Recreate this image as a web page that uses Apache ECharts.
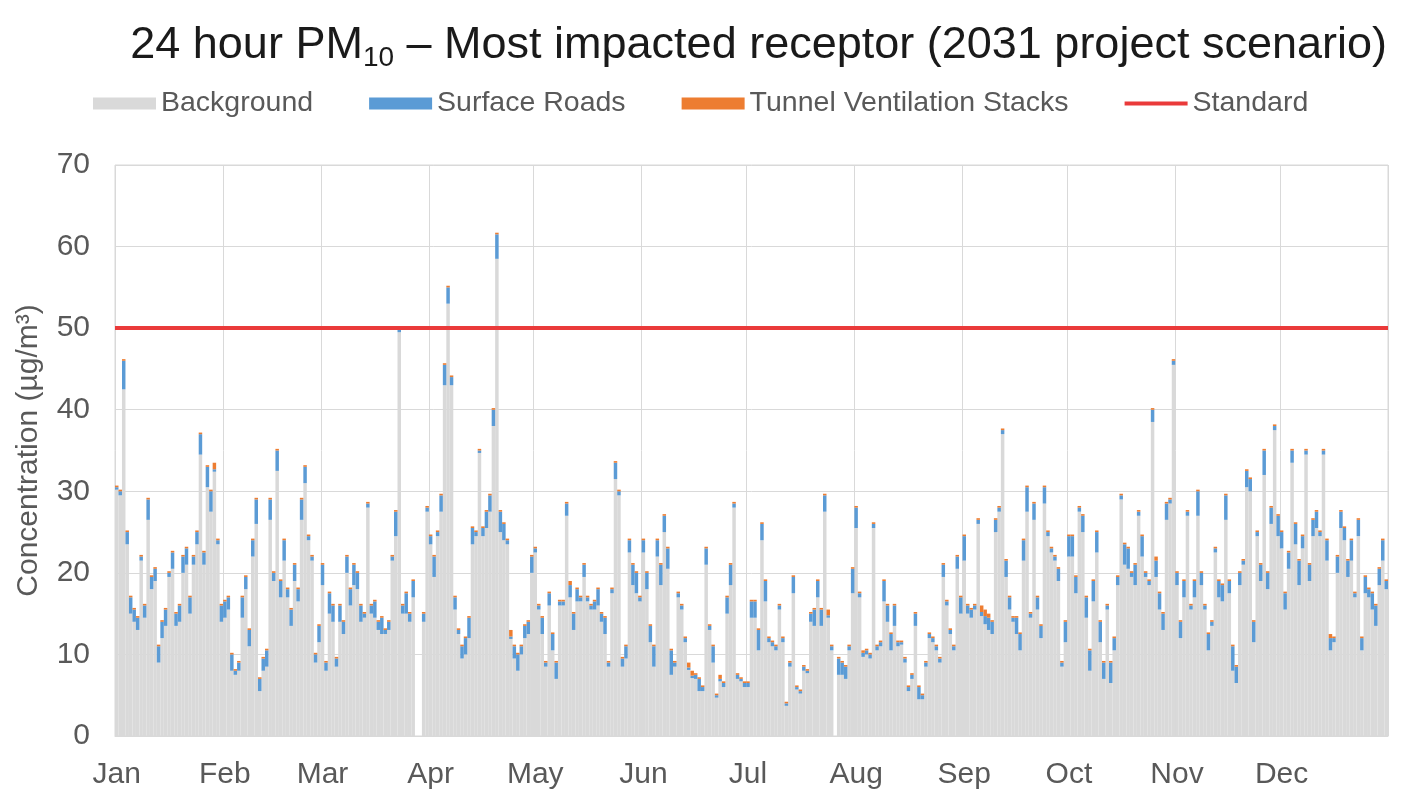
<!DOCTYPE html>
<html>
<head>
<meta charset="utf-8">
<script src="https://cdn.jsdelivr.net/npm/echarts@6/dist/echarts.min.js"></script>
<style>
  html, body { margin: 0; padding: 0; background: #fff; }
  .main { width: 1408px; height: 796px; }
</style>
</head>
<body>
<div class="main"></div>
<script>
var monthNames = ['Jan', 'Feb', 'Mar', 'Apr', 'May', 'Jun', 'Jul', 'Aug', 'Sep', 'Oct', 'Nov', 'Dec'];
var monthDays = [31, 28, 31, 30, 31, 30, 31, 31, 30, 31, 30, 31];
var yTicks = [0, 10, 20, 30, 40, 50, 60, 70];
var standard = 50;

// daily values, one row per month (ug/m3)
var background = [
  30.2,29.5,42.5,23.5,15,14,13,21.5,14.5,26.5,18,19,9,12,13.5,19.5,20.5,13.5,14,20,21,15,21,23.5,34.5,21,30.5,27.5,32.4,23.5,14,
  14.5,15.5,8,7.5,8,14.5,18,11,22,26,5.5,8,8.5,26.5,19,32.5,17,21.5,17,13.5,19,16.5,26.5,31,24,21.5,9,11.5,
  18.5,8,15,14,8.5,14,12.5,20,16,18.5,18,14,14.5,28,15,14.5,13,12.5,12.5,13,21.5,24.5,49.5,15,15,14,17,0,0,14,27.5,
  23.5,19.5,24.5,27.5,43,53,43,15.5,12.5,9.5,10,12,23.5,24.5,34.7,24.5,25.5,27.5,38,58.5,25,24,23.5,11.9,9.5,8,10,12,12.5,20,
  22.5,15.5,12.5,8.5,16,10.5,7,16,16,27,17,13,16.5,16.5,19.5,16.5,15.5,15.5,16,14,12.5,8.5,17.5,31.5,29.5,8.5,9.5,22.5,18.5,17.5,16.5,
  22.5,18,11.5,8.5,22,18.5,25,20.5,7.5,8.5,17,15.5,11.5,8.1,7.1,7,5.5,5.5,21,13,9,4.7,6.7,6,15,18.5,28,7,6.7,6,
  6,14.5,14.5,10.5,24,16.5,11.5,11,10.5,15.5,11.5,3.7,8.5,17.5,5.7,5.2,8,7.7,14,13.5,17,13.5,27.5,14.5,10.5,0,7.5,7.5,7,10.5,17.5,
  25.5,17,9.7,10,9.5,25.5,10.5,11,16.5,14,10.5,13.5,11,11.2,9,5.5,7,13.5,4.5,4.5,8.5,12,11.5,10.5,9,19.5,16,12.5,10.5,20.5,15,
  21.5,15,14.5,15.5,26,14.7,13.7,13,12.5,25,27.5,37,19.5,15.5,14,12.5,10.5,21.5,27.5,14.5,26.5,15.5,12,28.5,24.5,22.5,21.5,19,8.5,11.5,
  22,22,17.5,27.5,25,14.5,8,16.5,22.5,11.5,7,15.5,6.5,10.5,18.5,29,21,20.5,19.5,18.5,27,22,19.5,18.5,38.5,19.5,15.5,13,26.5,28.5,45.5,
  18.5,12,17,27,15.5,17,27,18.5,15.5,10.5,13.5,22.5,17,16.5,26.5,17.5,8,6.5,18.5,21,30.5,30,11.5,24.5,19,32,18,26,37.5,24.5,
  23,15.5,20.5,33.5,23.5,18.5,23,34.5,19,24.5,25.5,24.5,34.5,21.5,10.5,11.5,20,25.5,24,19.5,21.5,17,24.5,10.5,17.5,17,15.5,13.5,18.5,21.5,18
];

var surfaceRoads = [
  0.3,0.5,3.5,1.5,2,1.5,1.5,0.5,1.5,2.5,1.5,1.5,2,2,2,0.5,2,1.5,2,2,2,2,1,1.5,2.5,1.5,2.5,2.5,0.3,0.5,2,
  2,1.5,2,0.5,1,2.5,1.5,2,2,3,1.5,1.5,2,2.5,1,2.5,2,2.5,1,2,2,1.5,2.5,2,0.5,0.5,1,2,
  2.5,1,2.5,2,1,2,1.5,2,2,2.5,2,2,0.5,0.5,1,2,1,2,0.5,1,0.5,3,0.5,1,2.5,1,2,0,0,1,0.5,
  1,2.5,0.5,2,2.5,2,1,1.5,0.5,1.5,2,2.5,2,0.5,0.3,1,2,2,2,3,2.5,2,0.5,0.3,1.5,2,1,1.5,1.5,2,
  0.5,0.5,2,0.5,1.5,2,2,0.5,0.5,1.5,1.5,2,1.5,0.5,1.5,0.5,0.5,1,2,1,2,0.5,0.5,2,0.5,1,1.5,1.5,2.5,2.5,0.5,
  1.5,2,2,2.5,2,2.5,2,2.5,3,0.5,0.5,0.5,0.5,0.3,0.3,0.5,1.5,0.5,2,0.5,2,0.3,0.3,0.5,2,2.5,0.5,0.5,0.3,0.5,
  0.5,2,2,2.5,2,2.5,0.5,0.5,0.5,0.5,0.5,0.3,0.5,2,0.3,0.3,0.5,0.3,1,2,2,2,2,0.3,0.5,0,2,1.5,1.5,0.5,3,
  2.5,0.5,0.5,0.5,0.5,0.5,0.5,0.5,2.5,2,2,2.5,0.5,0.3,0.5,0.5,0.5,1.5,1.5,0.5,0.5,0.5,0.5,0.5,0.5,1.5,0.5,0.5,0.5,1.5,2,
  3,1,1,0.5,0.5,0.5,1,1.5,1.5,1.5,0.5,0.5,2,1.5,0.5,2,2,2.5,3,0.5,2,1.5,1.5,2,0.5,0.5,0.5,1.5,0.5,2.5,
  2.5,2.5,2,0.5,2,2.5,2.5,2.5,2.5,2.5,2,0.5,2.5,1.5,1,0.5,2.5,2.5,0.5,2.5,0.5,2.5,0.5,0.5,1.5,2,2,2,2,0.5,0.5,
  1.5,2,2,0.5,0.5,2,3,1.5,0.5,2,0.5,0.5,2,2,3,1.5,3,2,1.5,0.5,2,1.5,2.5,0.5,2,3,2,2,0.5,2.5,
  2,2,2,1.5,2.5,3,1.5,0.5,2,2,2,0.5,0.5,2.5,1.5,0.5,2,2,1.5,2,2.5,0.5,2,1.5,2,1,2,2.5,2,2.5,1
];

var tunnelStacks = [
  0.2,0.2,0.2,0.2,0.2,0.2,0.2,0.2,0.2,0.2,0.2,0.2,0.2,0.2,0.2,0.2,0.2,0.2,0.2,0.2,0.2,0.2,0.2,0.2,0.2,0.2,0.2,0.2,0.8,0.2,0.2,
  0.2,0.2,0.2,0.2,0.2,0.2,0.2,0.2,0.2,0.2,0.2,0.2,0.2,0.2,0.2,0.2,0.2,0.2,0.2,0.2,0.2,0.2,0.2,0.2,0.2,0.2,0.2,0.2,
  0.2,0.2,0.2,0.2,0.2,0.2,0.2,0.2,0.2,0.2,0.2,0.2,0.2,0.2,0.2,0.2,0.2,0.2,0.2,0.2,0.2,0.2,0.2,0.2,0.2,0.2,0.2,0,0,0.2,0.2,
  0.2,0.2,0.2,0.2,0.2,0.2,0.2,0.2,0.2,0.2,0.2,0.2,0.2,0.2,0.2,0.2,0.2,0.2,0.2,0.2,0.2,0.2,0.2,0.8,0.2,0.2,0.2,0.2,0.2,0.2,
  0.2,0.2,0.2,0.2,0.2,0.2,0.2,0.2,0.2,0.2,0.5,0.2,0.2,0.2,0.2,0.2,0.2,0.2,0.2,0.2,0.2,0.2,0.2,0.2,0.2,0.2,0.2,0.2,0.2,0.2,0.2,
  0.2,0.2,0.2,0.2,0.2,0.2,0.2,0.2,0.2,0.2,0.2,0.2,0.2,0.6,0.6,0.2,0.2,0.2,0.2,0.2,0.2,0.2,0.5,0.2,0.2,0.2,0.2,0.2,0.2,0.2,
  0.2,0.2,0.2,0.2,0.2,0.2,0.2,0.2,0.2,0.2,0.2,0.2,0.2,0.2,0.2,0.2,0.2,0.2,0.2,0.2,0.2,0.2,0.2,0.7,0.2,0,0.2,0.2,0.2,0.2,0.2,
  0.2,0.2,0.3,0.2,0.2,0.2,0.2,0.2,0.2,0.2,0.2,0.2,0.2,0.2,0.2,0.2,0.2,0.2,0.2,0.2,0.2,0.2,0.2,0.2,0.2,0.2,0.2,0.2,0.2,0.2,0.2,
  0.2,0.2,0.2,0.2,0.2,0.8,0.8,0.5,0.2,0.2,0.2,0.2,0.2,0.2,0.2,0.2,0.2,0.2,0.2,0.2,0.2,0.2,0.2,0.2,0.2,0.2,0.2,0.2,0.2,0.2,
  0.2,0.2,0.2,0.2,0.2,0.2,0.2,0.2,0.2,0.2,0.2,0.2,0.2,0.2,0.2,0.2,0.2,0.2,0.2,0.2,0.2,0.2,0.2,0.2,0.2,0.5,0.2,0.2,0.2,0.2,0.2,
  0.2,0.2,0.2,0.2,0.2,0.2,0.2,0.2,0.2,0.2,0.2,0.2,0.2,0.2,0.2,0.2,0.2,0.2,0.2,0.2,0.2,0.2,0.2,0.2,0.2,0.2,0.2,0.2,0.2,0.2,
  0.2,0.2,0.2,0.2,0.2,0.2,0.2,0.2,0.2,0.2,0.2,0.2,0.2,0.2,0.5,0.2,0.2,0.2,0.2,0.2,0.2,0.2,0.2,0.2,0.2,0.2,0.2,0.2,0.2,0.2,0.2
];

// one category per day, labelled "Mon d"
var days = [];
monthNames.forEach(function (m, i) {
  for (var d = 1; d <= monthDays[i]; d++) days.push(m + ' ' + d);
});
function isMonthStart(index) {
  return /\s1$/.test(days[index]);
}

var textColor = '#595959';
var gridColor = '#d9d9d9';
var red = '#ea3a3a';
var font = 'Liberation Sans';
var myChart = echarts.init(document.querySelector('.main'));

var option = {
  animation: false,
  title: {
    text: '{t|24 hour PM}{s|10}{t| – Most impacted receptor (2031 project scenario)}',
    right: 16,
    top: 14,
    textStyle: {
      rich: {
        t: { fontFamily: font, fontWeight: 'normal', fontSize: 45, color: '#1a1a1a', lineHeight: 54 },
        s: { fontFamily: font, fontWeight: 'normal', fontSize: 28, color: '#1a1a1a', lineHeight: 54, padding: [24, 0, 0, 0] }
      }
    }
  },
  legend: {
    left: 88,
    top: 84,
    itemWidth: 63,
    itemHeight: 12,
    itemGap: 56,
    textStyle: { fontFamily: font, fontSize: 28.5, color: textColor },
    data: [
      { name: 'Background', icon: 'rect' },
      { name: 'Surface Roads', icon: 'rect' },
      { name: 'Tunnel Ventilation Stacks', icon: 'rect' },
      {
        name: 'Standard',
        icon: 'path://M0,0L0.1,0M0,4L63,4L63,8L0,8ZM0,12L0.1,12',
        itemStyle: { color: red, borderWidth: 0 }
      }
    ]
  },
  grid: {
    left: 115, right: 20, top: 165, bottom: 60,
    show: true, borderColor: gridColor, borderWidth: 1
  },
  xAxis: {
    type: 'category',
    data: days,
    boundaryGap: true,
    axisLine: { lineStyle: { color: gridColor } },
    axisTick: { show: false },
    axisLabel: {
      interval: function (index) { return isMonthStart(index); },
      formatter: function (v) { return v.split(' ')[0]; },
      fontFamily: font, fontSize: 30, color: textColor, margin: 24
    },
    splitLine: {
      show: true,
      interval: function (index) { return isMonthStart(index); },
      lineStyle: { color: gridColor }
    }
  },
  yAxis: {
    type: 'value',
    min: yTicks[0],
    max: yTicks[yTicks.length - 1],
    interval: 10,
    name: 'Concentration (µg/m³)',
    nameLocation: 'middle',
    nameGap: 71,
    nameTextStyle: { fontFamily: font, fontSize: 30, color: textColor },
    axisLine: { show: false },
    axisTick: { show: false },
    axisLabel: { fontFamily: font, fontSize: 30, color: textColor, margin: 25 },
    splitLine: { lineStyle: { color: gridColor } }
  },
  series: [
    {
      name: 'Background', type: 'bar', stack: 'pm', barCategoryGap: '0%',
      itemStyle: { color: '#d9d9d9' }, data: background
    },
    {
      name: 'Surface Roads', type: 'bar', stack: 'pm', barCategoryGap: '0%',
      itemStyle: { color: '#5b9bd5' }, data: surfaceRoads
    },
    {
      name: 'Tunnel Ventilation Stacks', type: 'bar', stack: 'pm', barCategoryGap: '0%',
      itemStyle: { color: '#ed7d31' }, data: tunnelStacks
    },
    {
      name: 'Standard', type: 'line', data: [],
      color: red,
      symbol: 'none',
      lineStyle: { color: red, width: 4 },
      markLine: {
        silent: true,
        symbol: ['none', 'none'],
        label: { show: false },
        lineStyle: { color: red, width: 4, type: 'solid' },
        data: [{ yAxis: standard }]
      }
    }
  ]
};

myChart.setOption(option);
</script>
</body>
</html>
